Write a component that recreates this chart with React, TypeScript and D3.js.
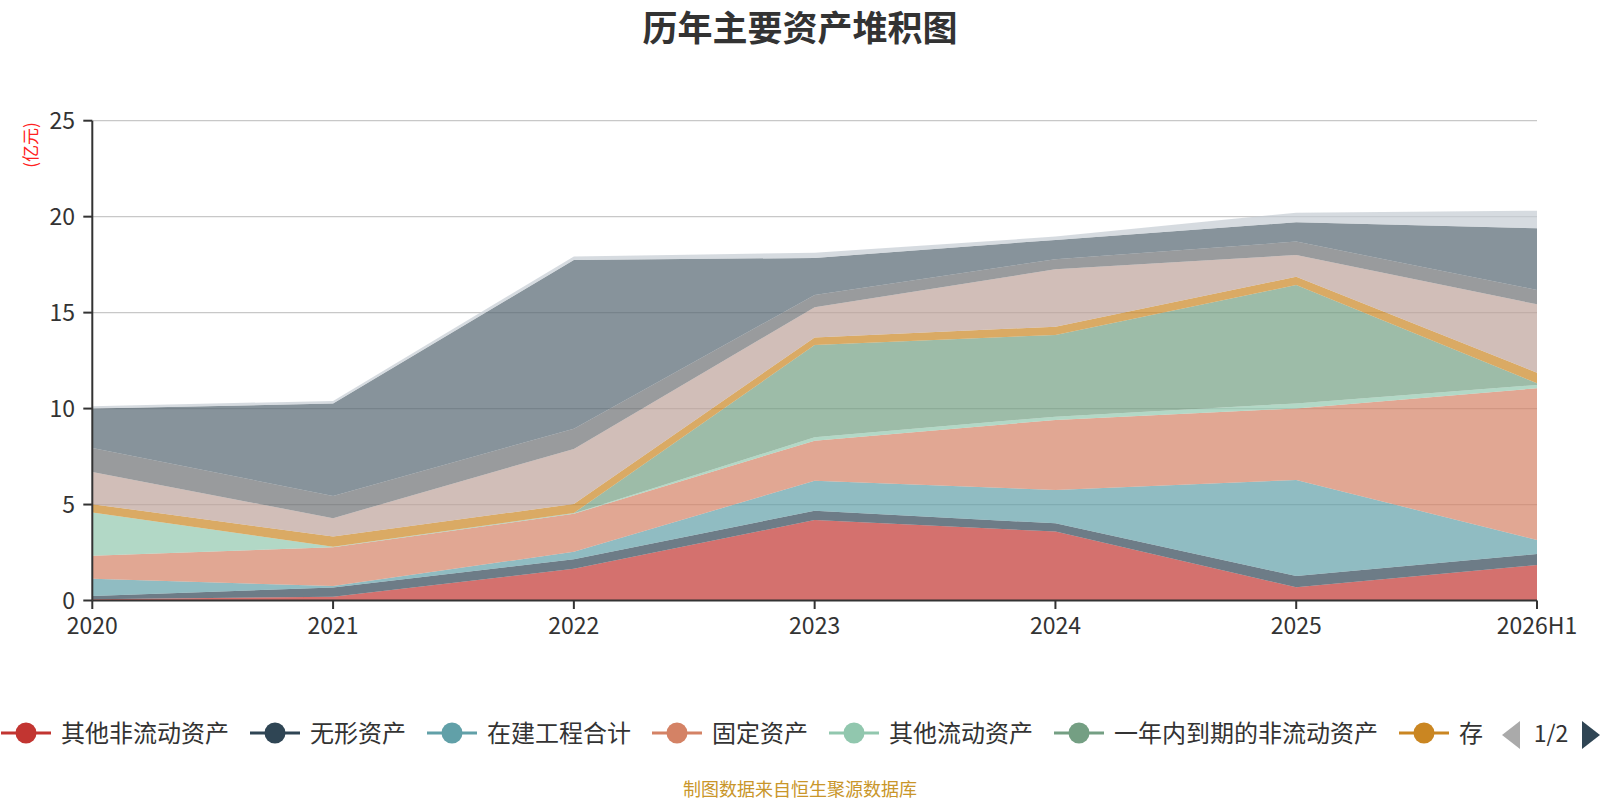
import React from "react";
import * as d3 from "d3";

const years = ["2020", "2021", "2022", "2023", "2024", "2025", "2026H1"];

const seriesNames = [
  "其他非流动资产",
  "无形资产",
  "在建工程合计",
  "固定资产",
  "其他流动资产",
  "一年内到期的非流动资产",
  "存货",
  "应收账款",
  "应收票据",
  "交易性金融资产",
  "货币资金",
];

const otherNonCurrent = [0.07, 0.19, 1.65, 4.19, 3.59, 0.69, 1.85];
const intangible = [0.16, 0.49, 0.5, 0.49, 0.43, 0.59, 0.57];
const construction = [0.9, 0.07, 0.39, 1.56, 1.74, 5.0, 0.73];
const fixedAssets = [1.2, 2.02, 1.98, 2.09, 3.65, 3.73, 7.91];
const otherCurrent = [2.25, 0.03, 0.02, 0.17, 0.17, 0.26, 0.17];
const dueWithinYear = [0, 0, 0.02, 4.81, 4.26, 6.17, 0.09];
const inventory = [0.44, 0.53, 0.47, 0.4, 0.43, 0.43, 0.55];
const receivables = [1.67, 0.96, 2.87, 1.57, 2.99, 1.13, 3.56];
const notesReceivable = [1.25, 1.16, 1.05, 0.64, 0.52, 0.7, 0.75];
const tradingAssets = [2.06, 4.81, 8.79, 1.93, 1.01, 1.01, 3.21];
const cash = [0.12, 0.14, 0.18, 0.27, 0.17, 0.5, 0.92];

const seriesValues = [
  otherNonCurrent,
  intangible,
  construction,
  fixedAssets,
  otherCurrent,
  dueWithinYear,
  inventory,
  receivables,
  notesReceivable,
  tradingAssets,
  cash,
];

const colors = [
  "#c23531",
  "#2f4554",
  "#61a0a8",
  "#d48265",
  "#91c7ae",
  "#749f83",
  "#ca8622",
  "#bda29a",
  "#6e7074",
  "#546570",
  "#c4ccd3",
];

const yTicks = [0, 5, 10, 15, 20, 25];
const legendCount = 7;

const CJK = '"Noto Sans CJK SC", sans-serif';

export default function App() {
  const W = 1600;
  const H = 800;
  const left = 92.3;
  const right = 1537;
  const top = 120.7;
  const bottom = 600.5;

  const x = d3.scalePoint<string>().domain(years).range([left, right]).padding(0);
  const y = d3.scaleLinear().domain([0, 25]).range([bottom, top]);

  const rows = years.map((yr, i) => {
    const r: Record<string, number | string> = { year: yr };
    seriesNames.forEach((n, k) => (r[n] = seriesValues[k][i]));
    return r;
  });

  const stacked = d3.stack<any>().keys(seriesNames)(rows);

  const area = d3
    .area<any>()
    .x((d) => x(d.data.year) as number)
    .y0((d) => y(d[0]))
    .y1((d) => y(d[1]));

  // legend layout
  const legendItems: { name: string; color: string; iconX: number; textX: number }[] = [];
  let cursor = 1;
  for (let i = 0; i < legendCount; i++) {
    const name = seriesNames[i];
    legendItems.push({ name, color: colors[i], iconX: cursor, textX: cursor + 60 });
    cursor += 60 + name.length * 24 + 21;
  }
  const legendY = 733;

  return (
    <svg width={W} height={H} style={{ display: "block", position: "absolute", left: 0, top: 0 }}>
      <defs>
        <clipPath id="legendClip">
          <rect x={0} y={700} width={1484} height={70} />
        </clipPath>
      </defs>
      <rect x={0} y={0} width={W} height={H} fill="#fff" />
      <text
        x={800}
        y={41}
        textAnchor="middle"
        fontFamily={CJK}
        fontWeight="bold"
        fontSize={35}
        fill="#333"
      >
        历年主要资产堆积图
      </text>

      {/* grid lines */}
      {yTicks
        .filter((t) => t > 0)
        .map((t) => (
          <line key={t} x1={left} x2={right} y1={y(t)} y2={y(t)} stroke="#c8c8c8" strokeWidth={1.2} />
        ))}

      {/* areas */}
      {stacked.map((s, i) => (
        <path key={s.key} d={area(s) as string} fill={colors[i]} fillOpacity={0.7} stroke="none" />
      ))}

      {/* y axis */}
      <line x1={left} x2={left} y1={top} y2={bottom} stroke="#333" strokeWidth={2} />
      {yTicks.map((t) => (
        <g key={t}>
          <line x1={left - 9} x2={left} y1={y(t)} y2={y(t)} stroke="#333" strokeWidth={2} />
          <text x={75} y={y(t) + 8} textAnchor="end" fontFamily={CJK} fontSize={23} fill="#333">
            {t}
          </text>
        </g>
      ))}
      <text
        transform={`translate(37, 145) rotate(-90)`}
        textAnchor="middle"
        fontFamily={CJK}
        fontSize={17}
        fill="#ff2020"
      >
        (亿元)
      </text>

      {/* x axis */}
      <line x1={left} x2={right} y1={bottom} y2={bottom} stroke="#333" strokeWidth={2} />
      {years.map((yr) => (
        <g key={yr}>
          <line
            x1={x(yr) as number}
            x2={x(yr) as number}
            y1={bottom}
            y2={bottom + 8.5}
            stroke="#333"
            strokeWidth={2}
          />
          <text x={x(yr) as number} y={634} textAnchor="middle" fontFamily={CJK} fontSize={23} fill="#333">
            {yr}
          </text>
        </g>
      ))}

      {/* legend */}
      <g clipPath="url(#legendClip)">
        {legendItems.map((it) => (
          <g key={it.name}>
            <line x1={it.iconX} x2={it.iconX + 50} y1={legendY} y2={legendY} stroke={it.color} strokeWidth={3} />
            <circle cx={it.iconX + 25} cy={legendY} r={10.5} fill={it.color} />
            <text x={it.textX} y={legendY + 8.5} fontFamily={CJK} fontSize={24} fill="#333">
              {it.name}
            </text>
          </g>
        ))}
      </g>
      {/* pager */}
      <path d="M1502,735 L1520,721 L1520,749 Z" fill="#aaa" />
      <text x={1551} y={742} textAnchor="middle" fontFamily={CJK} fontSize={23} fill="#333">
        1/2
      </text>
      <path d="M1582,721 L1600,735 L1582,749 Z" fill="#2f4554" />

      <text x={800} y={796} textAnchor="middle" fontFamily={CJK} fontSize={18} fill="#c9962a">
        制图数据来自恒生聚源数据库
      </text>
    </svg>
  );
}
